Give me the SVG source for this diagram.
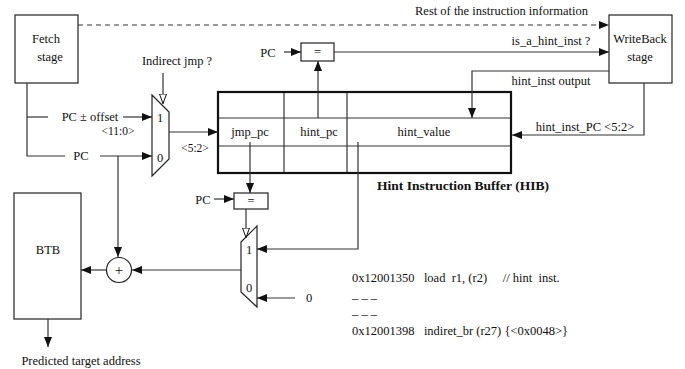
<svg xmlns="http://www.w3.org/2000/svg" width="685" height="369" viewBox="0 0 685 369" font-family="'Liberation Serif', 'Times New Roman', serif">
  <style>
    text { font-family: "Liberation Serif", "Times New Roman", serif; font-size: 12.5px; fill: #111; }
    .c { text-anchor: middle; }
    .b { font-weight: bold; font-size: 13.5px; }
    .s { font-size: 11.5px; }
    .ln { stroke: #333; stroke-width: 1.2; fill: none; }
    .box { stroke: #222; stroke-width: 1.2; fill: #fff; }
    .thick { stroke: #111; stroke-width: 2.2; fill: none; }
    .dash { stroke: #333; stroke-width: 1.2; fill: none; stroke-dasharray: 5 4; }
  </style>
  <defs>
    <marker id="arr" viewBox="0 0 10 8" refX="10" refY="4" markerWidth="10" markerHeight="8" markerUnits="userSpaceOnUse" orient="auto">
      <path d="M0,0 L10,4 L0,8 Z" fill="#111"/>
    </marker>
    <marker id="hollow" viewBox="0 0 10 8" refX="10" refY="4" markerWidth="10" markerHeight="8" markerUnits="userSpaceOnUse" orient="auto">
      <path d="M0,0.5 L9.5,4 L0,7.5 Z" fill="#fff" stroke="#111" stroke-width="1"/>
    </marker>
  </defs>

  <!-- Fetch stage -->
  <g id="fetch">
    <rect class="box" x="15" y="15" width="63" height="68"/>
    <text x="46" y="43" class="c">Fetch</text>
    <text x="50" y="61" class="c">stage</text>
  </g>

  <!-- WriteBack stage -->
  <g id="writeback">
    <rect class="box" x="609" y="15" width="63" height="68"/>
    <text x="640" y="43" class="c">WriteBack</text>
    <text x="640" y="61" class="c">stage</text>
  </g>

  <!-- upper multiplexer -->
  <g id="mux-top">
    <path class="box" d="M152,95 L169,112 L169,159 L152,176 Z"/>
    <text x="160" y="122" class="c">1</text>
    <text x="160" y="162" class="c">0</text>
  </g>

  <!-- Hint Instruction Buffer -->
  <g id="hib">
    <rect x="218" y="92" width="293" height="81" fill="#fff" stroke="none"/>
    <line class="ln" x1="218" y1="118" x2="511" y2="118"/>
    <line class="ln" x1="218" y1="146" x2="511" y2="146"/>
    <line class="ln" x1="284" y1="92" x2="284" y2="173"/>
    <line class="ln" x1="347" y1="92" x2="347" y2="173"/>
    <rect class="thick" x="218" y="92" width="293" height="81"/>
    <text x="250" y="136" class="c">jmp_pc</text>
    <text x="319" y="136" class="c">hint_pc</text>
    <text x="424" y="136" class="c">hint_value</text>
    <text x="463" y="190" class="c b">Hint Instruction Buffer (HIB)</text>
  </g>

  <!-- comparator on hint_pc -->
  <g id="cmp-top">
    <rect class="box" x="301" y="43" width="33" height="18"/>
    <text x="317.5" y="56" class="c">=</text>
  </g>

  <!-- comparator on jmp_pc -->
  <g id="cmp-bottom">
    <rect class="box" x="234" y="193" width="34" height="16"/>
    <text x="251" y="205" class="c">=</text>
  </g>

  <!-- lower multiplexer -->
  <g id="mux-bottom">
    <path class="box" d="M241,242 L257,226 L257,307 L241,292 Z"/>
    <text x="249" y="254" class="c">1</text>
    <text x="249" y="292" class="c">0</text>
  </g>

  <!-- adder -->
  <g id="adder">
    <circle class="box" cx="119" cy="270" r="12.5"/>
    <text x="119" y="275" class="c" style="font-size:15px">+</text>
  </g>

  <!-- BTB -->
  <g id="btb">
    <rect class="box" x="14" y="193" width="67" height="126"/>
    <text x="48" y="254" class="c">BTB</text>
  </g>

  <!-- connectors -->
  <g id="connectors">
    <!-- Fetch to WriteBack, dashed -->
    <line class="dash" x1="78" y1="25" x2="609" y2="25" marker-end="url(#arr)"/>
    <!-- Fetch outputs -->
    <polyline class="ln" points="27,83 27,156 65,156"/>
    <line class="ln" x1="27" y1="117" x2="48" y2="117"/>
    <line class="ln" x1="123" y1="117" x2="152" y2="117" marker-end="url(#arr)"/>
    <line class="ln" x1="100" y1="156" x2="152" y2="156" marker-end="url(#arr)"/>
    <!-- PC to adder -->
    <line class="ln" x1="118" y1="156" x2="118" y2="257" marker-end="url(#arr)"/>
    <!-- Indirect jmp select -->
    <line class="ln" x1="163" y1="73" x2="163" y2="104" marker-end="url(#hollow)"/>
    <!-- mux output into HIB -->
    <line class="ln" x1="169" y1="132" x2="218" y2="132" marker-end="url(#arr)"/>
    <!-- PC into top comparator -->
    <line class="ln" x1="284" y1="52" x2="301" y2="52" marker-end="url(#arr)"/>
    <!-- hint_pc into top comparator -->
    <line class="ln" x1="318" y1="118" x2="318" y2="61" marker-end="url(#arr)"/>
    <!-- comparator to WriteBack -->
    <line class="ln" x1="334" y1="52" x2="609" y2="52" marker-end="url(#arr)"/>
    <!-- hint_inst output -->
    <polyline class="ln" points="609,71 472,71 472,118" marker-end="url(#arr)"/>
    <!-- hint_inst_PC -->
    <polyline class="ln" points="644,83 644,135 512,135" marker-end="url(#arr)"/>
    <!-- jmp_pc into lower comparator -->
    <line class="ln" x1="250" y1="142" x2="250" y2="193" marker-end="url(#arr)"/>
    <!-- PC into lower comparator -->
    <line class="ln" x1="214" y1="199" x2="234" y2="199" marker-end="url(#arr)"/>
    <!-- comparator select to lower mux -->
    <line class="ln" x1="246" y1="209" x2="246" y2="238" marker-end="url(#hollow)"/>
    <!-- hint_value into lower mux -->
    <polyline class="ln" points="358,142 358,249 257,249" marker-end="url(#arr)"/>
    <!-- constant 0 into lower mux -->
    <line class="ln" x1="295" y1="298" x2="257" y2="298" marker-end="url(#arr)"/>
    <!-- lower mux output to adder -->
    <line class="ln" x1="241" y1="270" x2="132" y2="270" marker-end="url(#arr)"/>
    <!-- adder to BTB -->
    <line class="ln" x1="106" y1="270" x2="81" y2="270" marker-end="url(#arr)"/>
    <!-- BTB output -->
    <line class="ln" x1="48" y1="319" x2="48" y2="347" marker-end="url(#arr)"/>
  </g>

  <!-- labels -->
  <text x="415" y="15">Rest of the instruction information</text>
  <text x="177" y="65" class="c">Indirect jmp ?</text>
  <text x="90" y="121" class="c">PC ± offset</text>
  <text x="118" y="135" class="c s">&lt;11:0&gt;</text>
  <text x="195" y="152" class="c s">&lt;5:2&gt;</text>
  <text x="81" y="160" class="c">PC</text>
  <text x="268" y="57" class="c">PC</text>
  <text x="551" y="45" class="c">is_a_hint_inst ?</text>
  <text x="551" y="85" class="c">hint_inst output</text>
  <text x="585" y="131" class="c">hint_inst_PC &lt;5:2&gt;</text>
  <text x="203" y="204" class="c">PC</text>
  <text x="309" y="302" class="c">0</text>
  <text x="352" y="282" xml:space="preserve">0x12001350   load  r1, (r2)     // hint  inst.</text>
  <text x="352" y="302">– – –</text>
  <text x="352" y="318">– – –</text>
  <text x="352" y="335" xml:space="preserve">0x12001398   indiret_br (r27) {&lt;0x0048&gt;}</text>
  <text x="81" y="365" class="c">Predicted target address</text>
</svg>
